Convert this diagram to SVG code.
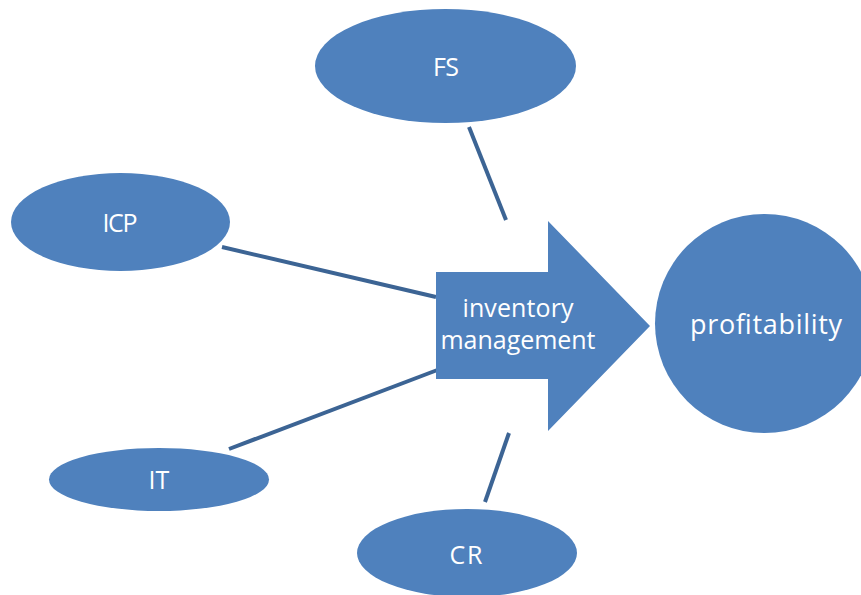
<svg xmlns="http://www.w3.org/2000/svg" width="861" height="595" viewBox="0 0 861 595">
  <style>
    .shape { fill: #4F81BD; }
    .label { fill: #FFFFFF; font-family: "Open Sans", "Noto Sans", "Liberation Sans", sans-serif; font-size: 25px; text-anchor: middle; }
    .big { font-size: 27px; }
    .link { stroke: #3C6494; stroke-width: 4; fill: none; }
  </style>
  <rect width="861" height="595" fill="#FFFFFF"/>

  <!-- connectors from the factors toward the central arrow -->
  <g id="connectors">
    <line class="link" x1="469" y1="127" x2="506" y2="220"/>
    <line class="link" x1="222" y1="247" x2="436" y2="297"/>
    <line class="link" x1="229" y1="449" x2="440" y2="369"/>
    <line class="link" x1="485" y1="502" x2="509" y2="433"/>
  </g>

  <g id="node-fs">
    <ellipse class="shape" cx="445.5" cy="66" rx="130.5" ry="57"/>
    <text class="label" x="446" y="76" textLength="26">FS</text>
  </g>

  <g id="node-icp">
    <ellipse class="shape" cx="120.5" cy="222" rx="109.5" ry="49"/>
    <text class="label" x="120" y="232" textLength="35">ICP</text>
  </g>

  <g id="node-it">
    <ellipse class="shape" cx="159" cy="479.5" rx="110" ry="31.5"/>
    <text class="label" x="159" y="489">IT</text>
  </g>

  <g id="node-cr">
    <ellipse class="shape" cx="467" cy="553" rx="110" ry="44"/>
    <text class="label" x="466" y="564" textLength="33">CR</text>
  </g>

  <g id="node-inventory-management">
    <polygon class="shape" points="436,272 548,272 548,221 650,326 548,431 548,379 436,379"/>
    <text class="label" x="518" y="317" textLength="111">inventory</text>
    <text class="label" x="518" y="349" textLength="155">management</text>
  </g>

  <g id="node-profitability">
    <circle class="shape" cx="764.5" cy="323.5" r="109.5"/>
    <text class="label big" x="766" y="334" textLength="152">profitability</text>
  </g>
</svg>
